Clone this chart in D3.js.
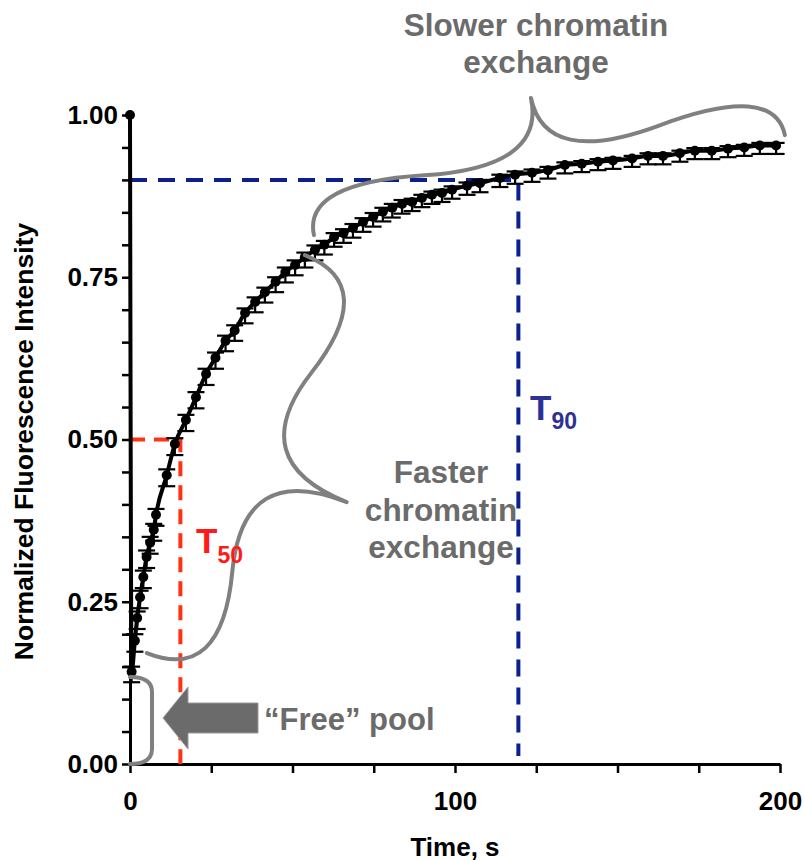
<!doctype html>
<html>
<head>
<style>
  body { margin: 0; background: #fff; }
  text { font-family: "Liberation Sans", Arial, sans-serif; font-weight: bold; }
  .axis path, .axis line { stroke: #000; }
</style>
<script src="https://cdn.jsdelivr.net/npm/d3@7"></script>
</head>
<body>
<svg width="804" height="861"></svg>
<script>

// FRAP recovery data (time in s, normalized intensity)
var times = [0, 0.5, 1.5, 2.2, 3.1, 4.1, 5.1, 6.2, 7.3, 8.0, 11.3, 13.8, 17.2, 20.3, 23.4,
  26.3, 29.4, 32.2, 35.4, 38.5, 41.5, 44.8, 47.8, 50.8, 53.8, 56.9, 59.8, 62.8, 65.7,
  68.6, 71.7, 74.8, 77.8, 80.7, 83.7, 86.8, 89.8, 92.9, 96.0, 99.1, 103.7, 107.7,
  113.8, 118.5, 123.7, 128.6, 133.8, 139.0, 144.0, 148.6, 154.5, 159.4, 164.0, 169.2,
  173.8, 179.0, 184.0, 189.0, 193.8, 198.8];
var values = [1.00, 0.142, 0.190, 0.225, 0.257, 0.288, 0.319, 0.341, 0.361, 0.384, 0.445,
  0.493, 0.530, 0.565, 0.601, 0.626, 0.652, 0.668, 0.695, 0.712, 0.727, 0.743, 0.758,
  0.769, 0.781, 0.792, 0.800, 0.812, 0.818, 0.826, 0.835, 0.843, 0.851, 0.857, 0.863,
  0.866, 0.872, 0.877, 0.880, 0.885, 0.891, 0.895, 0.903, 0.908, 0.911, 0.915, 0.923,
  0.925, 0.928, 0.930, 0.933, 0.937, 0.937, 0.941, 0.945, 0.945, 0.948, 0.950, 0.953, 0.953];
var errUp = [0, 0.008, 0.010, 0.010, 0.010, 0.010, 0.010, 0.009, 0.009, 0.009, 0.009,
  0.009, 0.008, 0.008, 0.008, 0.008, 0.008, 0.008, 0.007, 0.007, 0.007, 0.007, 0.007,
  0.007, 0.007, 0.007, 0.006, 0.006, 0.006, 0.006, 0.006, 0.006, 0.006, 0.006, 0.006,
  0.005, 0.005, 0.005, 0.005, 0.005, 0.005, 0.005, 0.005, 0.005, 0.005, 0.005, 0.004,
  0.004, 0.004, 0.004, 0.004, 0.004, 0.004, 0.004, 0.004, 0.004, 0.004, 0.004, 0.004, 0.004];
var errDown = [0, 0.016, 0.017, 0.017, 0.017, 0.017, 0.017, 0.017, 0.017, 0.017, 0.017,
  0.017, 0.017, 0.017, 0.017, 0.017, 0.016, 0.016, 0.016, 0.016, 0.016, 0.016, 0.016,
  0.016, 0.016, 0.016, 0.015, 0.015, 0.015, 0.015, 0.015, 0.015, 0.015, 0.015, 0.015,
  0.014, 0.014, 0.014, 0.014, 0.014, 0.014, 0.014, 0.014, 0.014, 0.014, 0.013, 0.013,
  0.013, 0.013, 0.013, 0.013, 0.013, 0.013, 0.013, 0.013, 0.013, 0.013, 0.013, 0.013, 0.013];

var yTicks = [0, 0.25, 0.5, 0.75, 1.0];
var xTicks = [0, 25, 50, 75, 100, 125, 150, 175, 200];
var xLabels = [0, 100, 200];
var t50 = 15.5, t90 = 119.5;

var data = times.map(function(t, i) {
  return { t: t, v: values[i], up: errUp[i], down: errDown[i] };
});

var svg = d3.select("svg");
var x = d3.scaleLinear().domain([0, 200]).range([130, 780]);
var y = d3.scaleLinear().domain([0, 1]).range([764, 115]);

var gray = "#6b6b6b";

// axes
var yAxis = svg.append("g").attr("class", "axis")
  .attr("transform", "translate(" + x(0) + ",0)")
  .call(d3.axisLeft(y).tickValues(d3.range(0, 1.0001, 0.05)).tickSize(8).tickSizeOuter(0)
    .tickFormat(function(d) {
      var r = Math.round(d * 100) / 100;
      return yTicks.indexOf(r) >= 0 ? d3.format(".2f")(r) : "";
    }));
yAxis.select(".domain").attr("stroke-width", 3);
yAxis.selectAll(".tick line").attr("stroke-width", 2.5);
yAxis.selectAll(".tick text").attr("font-size", 26).attr("x", -12)
  .attr("font-family", "Liberation Sans").attr("font-weight", "bold").attr("fill", "#000");

var xAxis = svg.append("g").attr("class", "axis")
  .attr("transform", "translate(0," + y(0) + ")")
  .call(d3.axisBottom(x).tickValues(xTicks).tickSize(9).tickSizeOuter(0)
    .tickFormat(function(d) { return xLabels.indexOf(d) >= 0 ? d : ""; }));
xAxis.select(".domain").attr("stroke-width", 3);
xAxis.selectAll(".tick line").attr("stroke-width", 2.5);
xAxis.selectAll(".tick text").attr("font-size", 26).attr("y", 28)
  .attr("font-family", "Liberation Sans").attr("font-weight", "bold").attr("fill", "#000");

svg.append("text")
  .attr("x", x(100)).attr("y", 856)
  .attr("text-anchor", "middle").attr("font-size", 26)
  .text("Time, s");

svg.append("text")
  .attr("transform", "translate(33," + (y(0.5) + 2) + ") rotate(-90)")
  .attr("text-anchor", "middle").attr("font-size", 26.5)
  .text("Normalized Fluorescence Intensity");

// T50 / T90 guides
svg.append("path")
  .attr("d", "M" + x(0) + "," + y(0.5) + "H" + x(t50) + "V" + y(0))
  .attr("fill", "none").attr("stroke", "#ff3314").attr("stroke-width", 4)
  .attr("stroke-dasharray", "15,9");
svg.append("path")
  .attr("d", "M" + x(0) + "," + y(0.9) + "H" + x(t90) + "V" + (y(0) - 8))
  .attr("fill", "none").attr("stroke", "#0b1f8f").attr("stroke-width", 4)
  .attr("stroke-dasharray", "17,11");

// data line
svg.append("path")
  .datum(data)
  .attr("fill", "none").attr("stroke", "#000").attr("stroke-width", 4)
  .attr("d", d3.line().x(function(d) { return x(d.t); }).y(function(d) { return y(d.v); })
    .curve(d3.curveMonotoneX));

// error bars
var eb = svg.append("g").selectAll("g").data(data.filter(function(d) { return d.up > 0; }))
  .enter().append("g").attr("stroke", "#000").attr("stroke-width", 2.2);
eb.append("line")
  .attr("x1", function(d) { return x(d.t); }).attr("x2", function(d) { return x(d.t); })
  .attr("y1", function(d) { return y(d.v + d.up); }).attr("y2", function(d) { return y(d.v - d.down); });
eb.append("line")
  .attr("x1", function(d) { return x(d.t) - 8.5; }).attr("x2", function(d) { return x(d.t) + 8.5; })
  .attr("y1", function(d) { return y(d.v + d.up); }).attr("y2", function(d) { return y(d.v + d.up); });
eb.append("line")
  .attr("x1", function(d) { return x(d.t) - 8.5; }).attr("x2", function(d) { return x(d.t) + 8.5; })
  .attr("y1", function(d) { return y(d.v - d.down); }).attr("y2", function(d) { return y(d.v - d.down); });

svg.append("g").selectAll("circle").data(data).enter()
  .append("circle")
  .attr("cx", function(d) { return x(d.t); })
  .attr("cy", function(d) { return y(d.v); })
  .attr("r", 5).attr("fill", "#000");

// curly brace between two points, bulging w px to the left of p1->p2
function brace(p1, p2, w, q) {
  var dx = p2[0] - p1[0], dy = p2[1] - p1[1];
  var len = Math.sqrt(dx * dx + dy * dy);
  var ux = dx / len, uy = dy / len;
  var nx = uy, ny = -ux;
  function pt(a, b) { return [a, b].join(","); }
  var tip = pt(p1[0] + 0.5 * len * ux + w * nx, p1[1] + 0.5 * len * uy + w * ny);
  return "M" + pt(p1[0], p1[1]) +
    "Q" + pt(p1[0] + q * w * nx, p1[1] + q * w * ny) + " " +
    pt(p1[0] + 0.25 * len * ux + (1 - q) * w * nx, p1[1] + 0.25 * len * uy + (1 - q) * w * ny) +
    "T" + tip +
    "M" + pt(p2[0], p2[1]) +
    "Q" + pt(p2[0] + q * w * nx, p2[1] + q * w * ny) + " " +
    pt(p2[0] - 0.25 * len * ux + (1 - q) * w * nx, p2[1] - 0.25 * len * uy + (1 - q) * w * ny) +
    "T" + tip;
}

var braces = svg.append("g").attr("fill", "none").attr("stroke", "#808080")
  .attr("stroke-width", 4).attr("stroke-linecap", "round");

// faster exchange
braces.append("path").attr("d", brace([x(53.8), y(0.784)], [x(5.2), y(0.171)], 130, 0.62));
// slower exchange
braces.append("path").attr("d", brace([x(56.6), y(0.815)], [x(201.5), y(0.969)], 89, 0.6));
// free pool bracket
var bx = x(0), by1 = y(0.134), by2 = y(0);
braces.append("path").attr("d",
  "M" + bx + "," + by1 + "Q" + (bx + 22) + "," + by1 + " " + (bx + 22) + "," + (by1 + 15) +
  "V" + (by2 - 15) + "Q" + (bx + 22) + "," + by2 + " " + bx + "," + by2);

// arrow
var ay = 718;
svg.append("path")
  .attr("d", "M163," + ay + "L188," + (ay - 31) + "V" + (ay - 15) + "H258V" + (ay + 15) +
    "H188V" + (ay + 31) + "Z")
  .attr("fill", gray).attr("stroke", "#9a9a9a").attr("stroke-width", 1);

// annotation text
function lines(txt, cx, y0, dy, size, color) {
  txt.forEach(function(s, i) {
    svg.append("text").attr("x", cx).attr("y", y0 + i * dy)
      .attr("text-anchor", "middle").attr("font-size", size).attr("fill", color).text(s);
  });
}
lines(["Slower chromatin", "exchange"], 536, 36, 37, 31.5, gray);
lines(["Faster", "chromatin", "exchange"], 441, 483, 37.5, 31.5, gray);
svg.append("text").attr("x", 264).attr("y", 730).attr("font-size", 31).attr("fill", gray)
  .text("\u201cFree\u201d pool");

var tl = svg.append("text").attr("x", 196).attr("y", 553).attr("fill", "#ff1a1a");
tl.append("tspan").attr("font-size", 35).text("T");
tl.append("tspan").attr("font-size", 23).attr("dy", 10).text("50");
var tb = svg.append("text").attr("x", 530).attr("y", 420).attr("fill", "#2e3192");
tb.append("tspan").attr("font-size", 35).text("T");
tb.append("tspan").attr("font-size", 23).attr("dy", 9).text("90");

</script>
</body>
</html>
